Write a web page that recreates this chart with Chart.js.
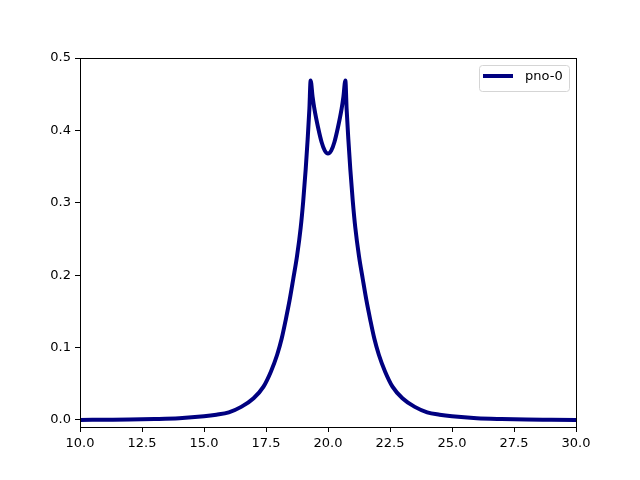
<!DOCTYPE html>
<html>
<head>
<meta charset="utf-8">
<script src="https://cdn.jsdelivr.net/npm/chart.js@4"></script>
<style>
  html, body { margin: 0; padding: 0; background: #fff; }
  #wrap { width: 640px; height: 480px; }
</style>
</head>
<body>
<div id="wrap"><canvas id="chart" width="640" height="480"></canvas></div>
<script>
// values
const xs = [10.0, 11.0, 12.0, 13.0, 14.0, 15.0, 15.5, 16.0, 16.5, 17.0, 17.4, 17.7, 17.95,
            18.13, 18.3, 18.45, 18.6, 18.75, 18.9, 19.0, 19.1, 19.18, 19.25, 19.3,
            19.38, 19.45, 19.6, 19.74, 19.87, 20.0,
            20.13, 20.26, 20.4, 20.55, 20.62, 20.7,
            20.75, 20.82, 20.9, 21.0, 21.1, 21.25, 21.4, 21.55, 21.7, 21.87,
            22.05, 22.3, 22.6, 23.0, 23.5, 24.0, 24.5, 25.0, 26.0, 27.0, 28.0, 29.0, 30.0];
const pno0 = [0.0000, 0.0003, 0.0006, 0.0012, 0.0023, 0.0050, 0.0072, 0.0105, 0.0180, 0.0300, 0.0460, 0.0670, 0.0900,
              0.1120, 0.1390, 0.1650, 0.1950, 0.2260, 0.2660, 0.3020, 0.3460, 0.3880, 0.4300, 0.4690,
              0.4460, 0.4300, 0.4040, 0.3840, 0.3720, 0.3680,
              0.3720, 0.3840, 0.4040, 0.4300, 0.4460, 0.4690,
              0.4300, 0.3880, 0.3460, 0.3020, 0.2660, 0.2260, 0.1950, 0.1650, 0.1390, 0.1120,
              0.0900, 0.0670, 0.0460, 0.0300, 0.0180, 0.0105, 0.0072, 0.0050, 0.0023, 0.0012, 0.0006, 0.0003, 0.0000];
const xTicks = [10.0, 12.5, 15.0, 17.5, 20.0, 22.5, 25.0, 27.5, 30.0];
const yTicks = [0.0, 0.1, 0.2, 0.3, 0.4, 0.5];

const font = { family: "'DejaVu Sans'", size: 13 };

// matplotlib-like frame and legend box in the upper right
const frame = {
  id: 'frame',
  afterDraw(chart) {
    const c = chart.ctx, a = chart.chartArea;
    c.save();
    c.strokeStyle = '#000';
    c.lineWidth = 1;
    c.strokeRect(Math.round(a.left) + 0.5, Math.round(a.top) + 0.5,
                 Math.round(a.right - a.left), Math.round(a.bottom - a.top));

    const ds = chart.data.datasets[0];
    const w = 90, h = 26;
    const x = Math.round(a.right) - 7 - w, y = Math.round(a.top) + 7;
    c.fillStyle = 'rgba(255,255,255,0.8)';
    c.strokeStyle = '#d5d5d5';
    c.beginPath();
    c.roundRect(x + 0.5, y + 0.5, w, h, 3);
    c.fill();
    c.stroke();
    c.strokeStyle = ds.borderColor;
    c.lineWidth = ds.borderWidth;
    c.beginPath();
    c.moveTo(x + 4, y + 11);
    c.lineTo(x + 34, y + 11);
    c.stroke();
    c.fillStyle = '#000';
    c.font = font.size + 'px ' + font.family;
    c.textBaseline = 'middle';
    c.fillText(ds.label, x + 46, y + 12);
    c.restore();
  }
};

const ctx = document.getElementById('chart').getContext('2d');
const points = xs.map((x, i) => ({ x: x, y: pno0[i] }));

new Chart(ctx, {
  type: 'line',
  data: {
    datasets: [{
      label: 'pno-0',
      data: points,
      borderColor: '#000080',
      backgroundColor: '#000080',
      borderWidth: 4,
      pointRadius: 0,
      fill: false,
      cubicInterpolationMode: 'monotone',
      borderJoinStyle: 'round',
      borderCapStyle: 'round'
    }]
  },
  options: {
    responsive: false,
    animation: false,
    devicePixelRatio: 1,
    layout: { padding: { left: 0, right: 64, top: 58, bottom: 0 } },
    plugins: {
      legend: { display: false },
      tooltip: { enabled: false }
    },
    scales: {
      x: {
        type: 'linear',
        min: 10,
        max: 30,
        afterFit(s) { s.height = 53; },
        afterBuildTicks(s) { s.ticks = xTicks.map(v => ({ value: v })); },
        ticks: {
          color: '#000',
          font: font,
          maxRotation: 0,
          padding: 4,
          callback: v => v.toFixed(1)
        },
        grid: { drawOnChartArea: false, drawTicks: true, tickLength: 5, color: '#000' },
        border: { display: true, color: '#000', width: 1 }
      },
      y: {
        type: 'linear',
        min: -0.0098,
        max: 0.5,
        afterFit(s) { s.width = 80; },
        afterBuildTicks(s) { s.ticks = yTicks.map(v => ({ value: v })); },
        ticks: {
          color: '#000',
          font: font,
          padding: 4,
          callback: v => v.toFixed(1)
        },
        grid: { drawOnChartArea: false, drawTicks: true, tickLength: 5, color: '#000' },
        border: { display: true, color: '#000', width: 1 }
      }
    }
  },
  plugins: [frame]
});
</script>
</body>
</html>
